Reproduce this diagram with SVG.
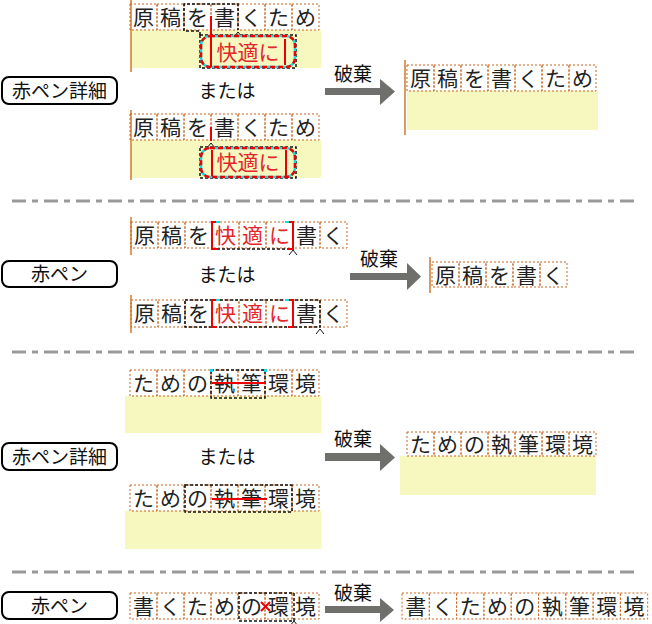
<svg xmlns="http://www.w3.org/2000/svg" width="652" height="624" viewBox="0 0 652 624">
<style>
.cell{fill:none;stroke:#c8651e;stroke-width:1;stroke-dasharray:2 2}
.ch{font-family:"Noto Sans CJK JP","Noto Sans CJK SC",sans-serif;font-size:21px;fill:#222;text-anchor:middle}
.rch{fill:#e2262b}
.yel{fill:#f6f8c0}
.ol{stroke:#d27a2a;stroke-width:1.5}
.sel{fill:none;stroke:#111;stroke-width:1.5;stroke-dasharray:3 2}
.red{stroke:#e00;stroke-width:2;fill:none}
.cy{fill:none;stroke:#19d8e0;stroke-width:2.5}
.rd{fill:none;stroke:#e00;stroke-width:2.5;stroke-dasharray:5 3}
.sep{stroke:#999;stroke-width:3;stroke-dasharray:14 6 6 6}
.lbl{fill:#fff;stroke:#000;stroke-width:2}
.lt{font-family:"Noto Sans CJK JP","Noto Sans CJK SC",sans-serif;font-size:19px;fill:#111;text-anchor:middle}
.arr{fill:#6f706c}
.car{fill:none;stroke:#111;stroke-width:1}
</style>

<!-- separators -->
<g id="separators">
<line class="sep" x1="12" y1="201" x2="636" y2="201"/>
<line class="sep" x1="12" y1="352" x2="636" y2="352"/>
<line class="sep" x1="12" y1="572" x2="636" y2="572"/>
</g>

<!-- Section 1 -->
<g id="s1-label">
<rect class="lbl" x="2" y="77" width="115" height="27" rx="7"/>
<text class="lt" x="59.5" y="97.5">赤ペン詳細</text>
</g>
<g id="s1-rowA">
<rect class="yel" x="131" y="30" width="190" height="38"/>
<line class="ol" x1="131" y1="0" x2="131" y2="72"/>
<g>
<rect class="cell" x="130" y="4" width="27" height="26"/><rect class="cell" x="157" y="4" width="27" height="26"/><rect class="cell" x="184" y="4" width="27" height="26"/><rect class="cell" x="211" y="4" width="27" height="26"/><rect class="cell" x="238" y="4" width="27" height="26"/><rect class="cell" x="265" y="4" width="27" height="26"/><rect class="cell" x="292" y="4" width="27" height="26"/>
</g>
<text class="ch" x="143.5 170.5 197.5 224.5 251.5 278.5 305.5" y="25">原稿を書くため</text>
<path class="sel" d="M200,35 V31 H184 V4 H238 V30"/>
<rect class="sel" x="200" y="35" width="96" height="33"/>
<path class="car" d="M234,37 L238,32 L242,37"/>
<rect class="cy" x="201" y="36" width="94" height="31" rx="9"/>
<rect class="rd" x="201" y="36" width="94" height="31" rx="9"/>
<line class="red" x1="211" y1="16" x2="211" y2="67"/>
<line class="red" x1="285" y1="39" x2="285" y2="65"/>
<text class="ch rch" x="248" y="60" font-size="21">快適に</text>
</g>

<g id="s1-or">
<text class="lt" x="227" y="98">または</text>
</g>

<g id="s1-rowB">
<rect class="yel" x="131" y="140" width="190" height="38"/>
<line class="ol" x1="131" y1="110" x2="131" y2="180"/>
<g>
<rect class="cell" x="130" y="114" width="27" height="26"/><rect class="cell" x="157" y="114" width="27" height="26"/><rect class="cell" x="184" y="114" width="27" height="26"/><rect class="cell" x="211" y="114" width="27" height="26"/><rect class="cell" x="238" y="114" width="27" height="26"/><rect class="cell" x="265" y="114" width="27" height="26"/><rect class="cell" x="292" y="114" width="27" height="26"/>
</g>
<text class="ch" x="143.5 170.5 197.5 224.5 251.5 278.5 305.5" y="135">原稿を書くため</text>
<line class="red" x1="211" y1="127" x2="211" y2="141"/>
<path class="car" d="M207,148 L211,143 L215,148"/>
<rect class="sel" x="200" y="147" width="96" height="31"/>
<rect class="cy" x="201" y="148" width="94" height="29" rx="9"/>
<rect class="rd" x="201" y="148" width="94" height="29" rx="9"/>
<line class="red" x1="212" y1="150" x2="212" y2="176"/>
<line class="red" x1="286" y1="150" x2="286" y2="176"/>
<text class="ch rch" x="248" y="170" font-size="21">快適に</text>
</g>

<g id="s1-arrow">
<polygon class="arr" points="325,88 380,88 380,79 395,91.5 380,105 380,95 325,95"/>
<text class="lt" x="353" y="81">破棄</text>
</g>

<g id="s1-result">
<rect class="yel" x="407" y="91" width="191" height="39"/>
<line class="ol" x1="405" y1="60" x2="405" y2="135"/>
<g>
<rect class="cell" x="407" y="65" width="27" height="26"/><rect class="cell" x="434" y="65" width="27" height="26"/><rect class="cell" x="461" y="65" width="27" height="26"/><rect class="cell" x="488" y="65" width="27" height="26"/><rect class="cell" x="515" y="65" width="27" height="26"/><rect class="cell" x="542" y="65" width="27" height="26"/><rect class="cell" x="569" y="65" width="27" height="26"/>
</g>
<text class="ch" x="420.5 447.5 474.5 501.5 528.5 555.5 582.5" y="86">原稿を書くため</text>
</g>

<!-- Section 2 -->
<g id="s2-label">
<rect class="lbl" x="2" y="261" width="115" height="26" rx="7"/>
<text class="lt" x="59.5" y="281">赤ペン</text>
</g>
<g id="s2-rowA">
<line class="ol" x1="131" y1="217" x2="131" y2="255"/>
<g>
<rect class="cell" x="131" y="222" width="27" height="26"/><rect class="cell" x="158" y="222" width="27" height="26"/><rect class="cell" x="185" y="222" width="27" height="26"/><rect class="cell" x="212" y="222" width="27" height="26"/><rect class="cell" x="239" y="222" width="27" height="26"/><rect class="cell" x="266" y="222" width="27" height="26"/><rect class="cell" x="293" y="222" width="27" height="26"/><rect class="cell" x="320" y="222" width="27" height="26"/>
</g>
<text class="ch" x="144.5 171.5 198.5" y="243">原稿を</text>
<text class="ch rch" x="225.5 252.5 279.5" y="243">快適に</text>
<text class="ch" x="306.5 333.5" y="243">書く</text>
<line class="sel" x1="212" y1="249" x2="293" y2="249"/>
<path d="M212,222 H220 M285,222 H293" stroke="#19d8e0" stroke-width="2"/>
<path class="red" d="M216,222 H212 V249 H217"/>
<path class="red" d="M289,222 H293 V249 H288"/>
<path class="car" d="M289,255 L293,250 L297,255"/>
</g>

<g id="s2-or">
<text class="lt" x="227" y="282">または</text>
</g>

<g id="s2-rowB">
<line class="ol" x1="131" y1="295" x2="131" y2="333"/>
<g>
<rect class="cell" x="131" y="300" width="27" height="27"/><rect class="cell" x="158" y="300" width="27" height="27"/><rect class="cell" x="185" y="300" width="27" height="27"/><rect class="cell" x="212" y="300" width="27" height="27"/><rect class="cell" x="239" y="300" width="27" height="27"/><rect class="cell" x="266" y="300" width="27" height="27"/><rect class="cell" x="293" y="300" width="27" height="27"/><rect class="cell" x="320" y="300" width="27" height="27"/>
</g>
<text class="ch" x="144.5 171.5 198.5" y="321">原稿を</text>
<text class="ch rch" x="225.5 252.5 279.5" y="321">快適に</text>
<text class="ch" x="306.5 333.5" y="321">書く</text>
<rect class="sel" x="185" y="300" width="135" height="27"/>
<path d="M212,300 H220 M285,300 H293" stroke="#19d8e0" stroke-width="2"/>
<path class="red" d="M216,300 H212 V327 H217"/>
<path class="red" d="M289,300 H293 V327 H288"/>
<path class="car" d="M316,334 L320,329 L324,334"/>
</g>

<g id="s2-arrow">
<polygon class="arr" points="350,273 407,273 407,263 421,276.5 407,290 407,280 350,280"/>
<text class="lt" x="379" y="266">破棄</text>
</g>

<g id="s2-result">
<line class="ol" x1="430" y1="257" x2="430" y2="293"/>
<g>
<rect class="cell" x="432" y="262" width="27" height="25"/><rect class="cell" x="459" y="262" width="27" height="25"/><rect class="cell" x="486" y="262" width="27" height="25"/><rect class="cell" x="513" y="262" width="27" height="25"/><rect class="cell" x="540" y="262" width="27" height="25"/>
</g>
<text class="ch" x="445.5 472.5 499.5 526.5 553.5" y="282.5">原稿を書く</text>
</g>

<!-- Section 3 -->
<g id="s3-label">
<rect class="lbl" x="2" y="443" width="115" height="27" rx="7"/>
<text class="lt" x="59.5" y="463.5">赤ペン詳細</text>
</g>
<g id="s3-rowA">
<rect class="yel" x="125" y="396" width="196" height="37"/>
<g>
<rect class="cell" x="130" y="370" width="27" height="26"/><rect class="cell" x="157" y="370" width="27" height="26"/><rect class="cell" x="184" y="370" width="27" height="26"/><rect class="cell" x="211" y="370" width="27" height="26"/><rect class="cell" x="238" y="370" width="27" height="26"/><rect class="cell" x="265" y="370" width="27" height="26"/><rect class="cell" x="292" y="370" width="27" height="26"/>
</g>
<text class="ch" x="143.5 170.5 197.5 224.5 251.5 278.5 305.5" y="391">ための執筆環境</text>
<rect class="sel" x="211" y="370" width="54" height="28"/>
<rect x="210" y="369" width="3" height="3" fill="#19d8e0"/>
<rect x="264" y="369" width="3" height="3" fill="#19d8e0"/>
<line class="red" x1="211" y1="383" x2="265" y2="383" stroke-width="2.5"/>
</g>

<g id="s3-or">
<text class="lt" x="227" y="464">または</text>
</g>

<g id="s3-rowB">
<rect class="yel" x="125" y="511" width="196" height="38"/>
<g>
<rect class="cell" x="130" y="485" width="27" height="26"/><rect class="cell" x="157" y="485" width="27" height="26"/><rect class="cell" x="184" y="485" width="27" height="26"/><rect class="cell" x="211" y="485" width="27" height="26"/><rect class="cell" x="238" y="485" width="27" height="26"/><rect class="cell" x="265" y="485" width="27" height="26"/><rect class="cell" x="292" y="485" width="27" height="26"/>
</g>
<text class="ch" x="143.5 170.5 197.5 224.5 251.5 278.5 305.5" y="506">ための執筆環境</text>
<rect class="sel" x="185" y="485" width="107" height="27"/>
<line class="red" x1="212" y1="499" x2="267" y2="499" stroke-width="2.5"/>
</g>

<g id="s3-arrow">
<polygon class="arr" points="325,453 380,453 380,444 395,457.5 380,471 380,461 325,461"/>
<text class="lt" x="353" y="446">破棄</text>
</g>

<g id="s3-result">
<rect class="yel" x="400" y="456" width="196" height="39"/>
<g>
<rect class="cell" x="407" y="432" width="27" height="24"/><rect class="cell" x="434" y="432" width="27" height="24"/><rect class="cell" x="461" y="432" width="27" height="24"/><rect class="cell" x="488" y="432" width="27" height="24"/><rect class="cell" x="515" y="432" width="27" height="24"/><rect class="cell" x="542" y="432" width="27" height="24"/><rect class="cell" x="569" y="432" width="27" height="24"/>
</g>
<text class="ch" x="420.5 447.5 474.5 501.5 528.5 555.5 582.5" y="451.5">ための執筆環境</text>
</g>

<!-- Section 4 -->
<g id="s4-label">
<rect class="lbl" x="2" y="592" width="115" height="27" rx="7"/>
<text class="lt" x="59.5" y="612.5">赤ペン</text>
</g>
<g id="s4-row">
<g>
<rect class="cell" x="130" y="593" width="27" height="26"/><rect class="cell" x="157" y="593" width="27" height="26"/><rect class="cell" x="184" y="593" width="27" height="26"/><rect class="cell" x="211" y="593" width="27" height="26"/><rect class="cell" x="238" y="593" width="27" height="26"/><rect class="cell" x="265" y="593" width="27" height="26"/><rect class="cell" x="292" y="593" width="27" height="26"/>
</g>
<text class="ch" x="143.5 170.5 197.5 224.5 251.5 278.5 305.5" y="614">書くための環境</text>
<rect class="sel" x="239" y="593" width="55" height="28"/>
<path class="red" d="M261,602 L270,611 M270,602 L261,611" stroke-width="2.5"/>
<path class="car" d="M290,626 L294,621 L298,626"/>
</g>

<g id="s4-arrow">
<polygon class="arr" points="325,606 380,606 380,598 394,610 380,622 380,613 325,613"/>
<text class="lt" x="353" y="600">破棄</text>
</g>

<g id="s4-result">
<g>
<rect class="cell" x="402" y="593" width="27.3" height="26"/><rect class="cell" x="429.3" y="593" width="27.3" height="26"/><rect class="cell" x="456.6" y="593" width="27.3" height="26"/><rect class="cell" x="483.9" y="593" width="27.3" height="26"/><rect class="cell" x="511.2" y="593" width="27.3" height="26"/><rect class="cell" x="538.5" y="593" width="27.3" height="26"/><rect class="cell" x="565.8" y="593" width="27.3" height="26"/><rect class="cell" x="593.1" y="593" width="27.3" height="26"/><rect class="cell" x="620.4" y="593" width="27.3" height="26"/>
</g>
<text class="ch" x="415.65 442.95 470.25 497.55 524.85 552.15 579.45 606.75 634.05" y="614">書くための執筆環境</text>
</g>
</svg>
